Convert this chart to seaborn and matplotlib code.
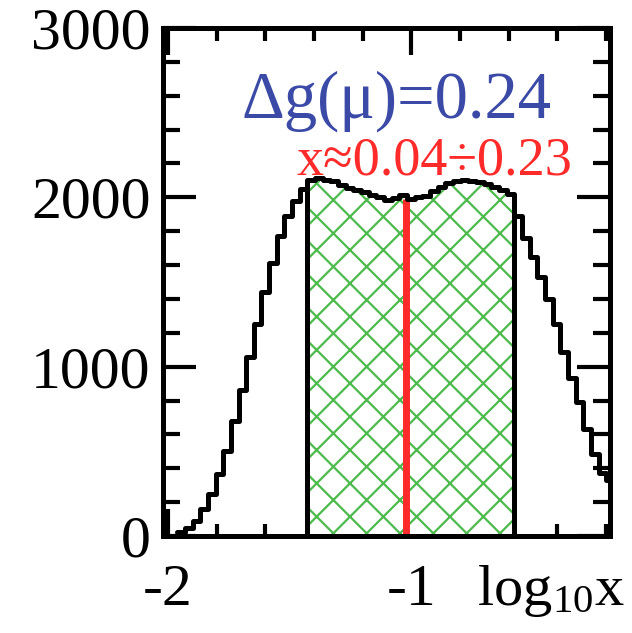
import numpy as np
import pandas as pd
import matplotlib
matplotlib.use("Agg")
import matplotlib.pyplot as plt
from matplotlib.ticker import MultipleLocator
import seaborn as sns

# ---- data ----
bin_start = -1.962
bin_width = 0.0315
counts = [25, 50, 90, 160, 250, 365, 505, 680, 860, 1057,
          1250, 1440, 1615, 1770, 1890, 1980, 2050, 2100, 2113, 2105,
          2095, 2075, 2055, 2045, 2030, 2015, 2000, 1985, 1995, 2014,
          1990, 2004, 2010, 2040, 2060, 2083, 2095, 2100, 2095, 2090,
          2078, 2060, 2042, 2020, 1890, 1760, 1650, 1531, 1400, 1250,
          1089, 935, 793, 630, 485, 372, 330]
band_first = 17
band_last = 43
x_red = -1.022
red_top = 1990
x_ticks = [-2, -1]
x_ticklabels = ["-2", "-1"]
y_ticks = [0, 1000, 2000, 3000]
y_ticklabels = ["0", "1000", "2000", "3000"]
label_dg = "Δg(μ)=0.24"
label_x = "x≈0.04÷0.23"
x_label = r"$\mathregular{log_{10}x}$"

GREEN = "#4cbb4c"
RED = "#ff2a2a"
BLUE = "#3a4aa6"

sns.set_style("ticks")
plt.rcParams["font.family"] = ["Liberation Serif", "DejaVu Serif"]
plt.rcParams["mathtext.fontset"] = "custom"
plt.rcParams["mathtext.rm"] = "Liberation Serif"
plt.rcParams["axes.unicode_minus"] = False
plt.rcParams["hatch.color"] = GREEN
plt.rcParams["hatch.linewidth"] = 1.6

fig = plt.figure(figsize=(6.32, 6.33), dpi=100)
ax = fig.add_axes([0.258, 0.1532, 0.707, 0.8026])

edges = (bin_start + bin_width * np.arange(len(counts) + 1)).tolist()
centers = [e + bin_width / 2 for e in edges[:-1]]
df = pd.DataFrame({"log10x": centers, "count": counts})
band = df.iloc[band_first:band_last + 1]

# hatched band
sns.histplot(data=band, x="log10x", weights="count",
             bins=edges[band_first:band_last + 2], element="step",
             fill=True, facecolor="white", edgecolor=GREEN, linewidth=0,
             hatch="x", alpha=1, ax=ax, zorder=1)

# outline
sns.histplot(data=df, x="log10x", weights="count", bins=edges,
             element="step", fill=False, color="black", linewidth=3.6,
             ax=ax, zorder=3)

# band boundaries
ax.vlines([edges[band_first], edges[band_last + 1]], 0,
          [counts[band_first], counts[band_last]],
          color="black", linewidth=3.6, zorder=3)

# red line
ax.vlines([x_red], 0, [red_top], color=RED, linewidth=5, zorder=2)

ax.set_xlim(-2.02, -0.184)
ax.set_ylim(0, 3000)
ax.set_xlabel("")
ax.set_ylabel("")

ax.set_xticks(x_ticks, x_ticklabels)
ax.set_yticks(y_ticks, y_ticklabels)
ax.xaxis.set_minor_locator(MultipleLocator(0.2))
ax.yaxis.set_minor_locator(MultipleLocator(200))

ax.tick_params(which="both", direction="in", top=True, right=True,
               width=3, color="black", labelcolor="black")
ax.tick_params(axis="x", which="major", length=19.5, pad=20, labelsize=43)
ax.tick_params(axis="x", which="minor", length=9)
ax.tick_params(axis="y", which="major", length=24, pad=9, labelsize=43)
ax.tick_params(axis="y", which="minor", length=12)

for sp in ax.spines.values():
    sp.set_linewidth(3.6)
    sp.set_color("black")
    sp.set_zorder(5)

ax.text(0.523, 0.823, label_dg, transform=ax.transAxes, ha="center",
        va="baseline", fontsize=48, color=BLUE)
ax.text(0.608, 0.711, label_x, transform=ax.transAxes, ha="center",
        va="baseline", fontsize=39, color=RED)
ax.text(1.034, -0.136, x_label, transform=ax.transAxes, ha="right",
        va="baseline", fontsize=42, color="black")

fig.savefig("out.png", dpi=100, facecolor="white")
